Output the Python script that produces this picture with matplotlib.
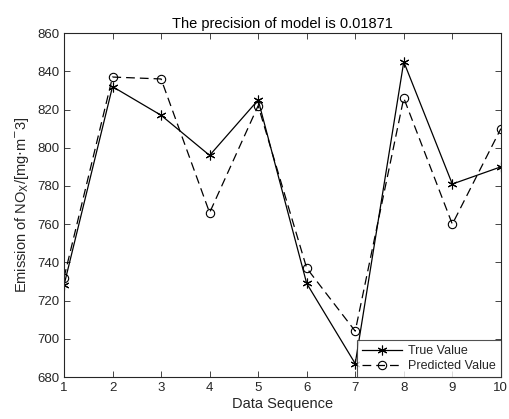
import matplotlib
matplotlib.use('Agg')
import matplotlib.pyplot as plt
import numpy as np

plt.rcParams['font.family'] = ['Liberation Sans', 'DejaVu Sans']

seq = np.arange(1, 11)
true_value = [728, 832, 817, 796, 825, 729, 687, 845, 781, 790]
predicted_value = [732, 837, 836, 766, 822, 737, 704, 826, 760, 810]

gray = '#262626'

fig = plt.figure(figsize=(5.09, 4.19), dpi=100)
ax = fig.add_axes([0.1257, 0.1002, 0.8583, 0.8208])

ax.plot(seq, true_value, color='k', lw=0.9, marker=(6, 2, 0), ms=7,
        mew=0.8, label='True Value')
ax.plot(seq, predicted_value, color='k', lw=0.9, ls=(0, (7, 4)), marker='o',
        ms=6, mfc='none', mew=0.8, label='Predicted Value')

ax.set_xlim(1, 10)
ax.set_ylim(680, 860)
ax.set_xticks(seq)
ax.set_yticks(np.arange(680, 861, 20))
ax.tick_params(direction='in', top=True, right=True, labelsize=9.5,
               colors=gray, length=4, width=0.6)
for s in ax.spines.values():
    s.set_linewidth(0.8)
    s.set_color(gray)

ax.set_title('The precision of model is 0.01871', fontsize=10.5, color='k', pad=4)
ax.set_xlabel('Data Sequence', fontsize=10.5, color=gray, labelpad=2)
ax.set_ylabel('Emission of NO$_\\mathrm{X}$/[mg$\\cdot$m$^{-}$3]', fontsize=10.5,
              color=gray, labelpad=4)

leg = ax.legend(loc='lower right', fontsize=9, frameon=True, fancybox=False,
                borderaxespad=0, handlelength=3.2, handletextpad=0.5,
                borderpad=0.4, labelspacing=0.25)
leg.get_frame().set_edgecolor(gray)
leg.get_frame().set_linewidth(0.8)
for t in leg.get_texts():
    t.set_color(gray)

fig.savefig('out.png', dpi=100)
